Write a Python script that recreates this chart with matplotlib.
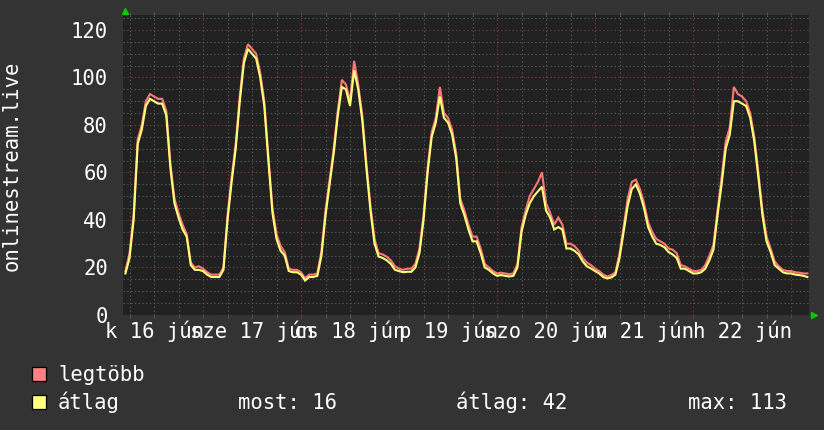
import matplotlib
matplotlib.use("Agg")
import matplotlib.pyplot as plt
import matplotlib.transforms as mtransforms
from matplotlib.patches import Rectangle
import numpy as np

# ---- data (hours since 16 jún 00:00) ----
hours = list(range(5, 173))
atlag = [
    17.5, 24, 40, 72, 78, 88, 91, 90, 89, 89,
    84, 62, 47, 41, 36, 33, 21, 19, 19, 18.5,
    17, 16, 16, 16, 19, 40, 56, 70, 90, 106,
    112, 110, 108, 100, 88, 65, 43, 32, 27, 25,
    18.5, 18, 18, 17, 14.5, 16, 16, 16.5, 25, 42,
    55, 68, 84, 96, 95, 88, 103, 95, 82, 62,
    44, 30, 24.6, 24, 23, 21.5, 19, 18.5, 18, 18.2,
    18.2, 20, 26, 40, 60, 75, 81, 92, 83, 81,
    76, 66, 47, 42, 36, 31, 31, 26, 20, 19,
    17.5, 16.5, 16.8, 16.5, 16.2, 16.5, 20, 35, 42, 47,
    50, 52, 54, 44, 41, 36, 37, 36, 28, 28,
    27, 25.5, 22.5, 20.5, 19.6, 18.5, 17.5, 16, 15.4, 15.8,
    17, 24, 35, 46, 53, 55, 51, 45, 37, 33,
    30, 29.5, 28.5, 26.5, 25.5, 24, 19.5, 19.5, 18.5, 17.5,
    17.5, 18, 19.5, 23, 27.5, 42, 55, 70, 76, 90,
    90, 89, 88, 83, 73, 58, 42, 31, 26.5, 21,
    19.5, 18, 17.5, 17.5, 17, 16.8, 16.5, 16,
]
legtobb = [
    18.5, 26, 42, 74, 80, 90, 93, 92, 91, 91,
    86, 64, 49, 43, 38, 34, 22, 20, 20.5, 19.5,
    18, 17, 17, 17, 20, 42, 58, 72, 92, 108,
    114, 112, 110, 102, 90, 67, 45, 34, 29, 26.5,
    19.5, 19, 19, 18, 15.5, 17, 17, 17.5, 27, 44,
    57, 70, 86, 99, 97, 90, 107, 97, 84, 64,
    46, 32, 26, 25.5, 24.5, 23, 20.5, 19.5, 19, 19.5,
    19.5, 21.5, 28, 42, 62, 77, 83, 96, 85, 83,
    78, 68, 49, 44, 38, 33, 33, 28, 21.5, 20,
    18.5, 17.5, 17.8, 17.5, 17.2, 17.5, 21.5, 37, 44, 50,
    53, 56, 60, 47, 43, 38, 41, 38, 30, 30,
    29, 27, 24, 22, 21, 19.5, 18.5, 17, 16.2, 16.8,
    18, 26, 37, 49, 56, 57, 53, 47, 39, 35,
    32, 31, 30, 28, 27.5, 26, 21, 20.5, 19.5, 18.5,
    18.5, 19, 21, 25, 29.5, 44, 58, 73, 79, 96,
    93, 92, 90, 85, 75, 60, 44, 33, 28, 22.5,
    20.5, 19, 18.5, 18.5, 18, 17.8, 17.5, 17.5,
]
day_label_hours = [12, 36, 60, 84, 108, 132, 156]
day_labels = ["k 16 jún", "sze 17 jún", "cs 18 jún", "p 19 jún",
              "szo 20 jún", "v 21 jún", "h 22 jún"]
y_ticks = [0, 20, 40, 60, 80, 100, 120]
legend_names = ["legtöbb", "átlag"]
legend_colors = ["#ff8080", "#ffff80"]
stats = ["most: 16", "átlag: 42", "max: 113"]
ylabel = "onlinestream.live"

# ---- style ----
BG = "#333333"
CANVAS = "#212121"
MINOR = "#575757"
MAJOR = "#7a3838"
FONT = "DejaVu Sans Mono"
FS = 14.8

W, H = 824, 430
fig = plt.figure(figsize=(W / 100, H / 100), dpi=100, facecolor=BG)
L, R, T, B = 123, 809, 15, 315
ax = fig.add_axes([L / W, (H - B) / H, (R - L) / W, (B - T) / H])
ax.set_facecolor(CANVAS)

ax.set_xlim(4.4, 172.4)
ax.set_ylim(0, 126.3)

# grid
ax.set_xticks(np.arange(24, 169, 24))
ax.set_xticks(np.arange(6, 172, 6), minor=True)
ax.set_yticks(y_ticks)
ax.set_yticks(np.arange(5, 126, 5), minor=True)
ax.grid(which="minor", color=MINOR, linestyle=(0, (1.2, 2.2)), linewidth=0.8)
ax.grid(which="major", color=MAJOR, linestyle=(0, (1.2, 2.2)), linewidth=0.8)
ax.set_axisbelow(True)

ax.tick_params(axis="x", which="both", labelbottom=False, length=2.5,
               direction="out", top=True, width=0.8)
ax.tick_params(axis="x", which="major", color=MAJOR)
ax.tick_params(axis="x", which="minor", color=MINOR)
ax.tick_params(axis="y", which="both", length=0, pad=10.8,
               labelcolor="white", labelsize=FS)
for lab in ax.get_yticklabels():
    lab.set_fontfamily(FONT)

for s in ax.spines.values():
    s.set_visible(False)

# series
ax.plot(hours, legtobb, color="#ff7878", linewidth=1.5, solid_joinstyle="miter")
ax.plot(hours, atlag, color="#ffff78", linewidth=1.5, solid_joinstyle="miter")

# arrows
ax.plot([0.003], [1.013], marker="^", color="#00cc00", markersize=4.5,
        transform=ax.transAxes, clip_on=False)
ax.plot([1.007], [0.0], marker=">", color="#00cc00", markersize=4.5,
        transform=ax.transAxes, clip_on=False)

# x labels (centred at noon)
tr = mtransforms.blended_transform_factory(ax.transData, fig.transFigure)
for hx, lab in zip(day_label_hours, day_labels):
    ax.text(hx, (H - 338) / H, lab, transform=tr, ha="center", va="baseline",
            color="white", fontsize=FS, fontfamily=FONT, clip_on=False)

# y label
fig.text(12 / W, (H - 166) / H, ylabel, rotation=90, ha="center", va="center",
         color="white", fontsize=FS, fontfamily=FONT)

# legend
rows_base = [381, 409]
for (name, col, yb) in zip(legend_names, legend_colors, rows_base):
    fig.patches.append(Rectangle((32 / W, (H - yb + 0.5) / H), 14 / W, 14 / H,
                                 transform=fig.transFigure, facecolor=col,
                                 edgecolor="black", linewidth=0.9))
    fig.text(58 / W, (H - yb) / H, name, ha="left", va="baseline",
             color="white", fontsize=FS, fontfamily=FONT)
for xs, s in zip([238, 456, 688], stats):
    fig.text(xs / W, (H - 409) / H, s, ha="left", va="baseline",
             color="white", fontsize=FS, fontfamily=FONT)

fig.savefig("out.png", dpi=100, facecolor=BG)
